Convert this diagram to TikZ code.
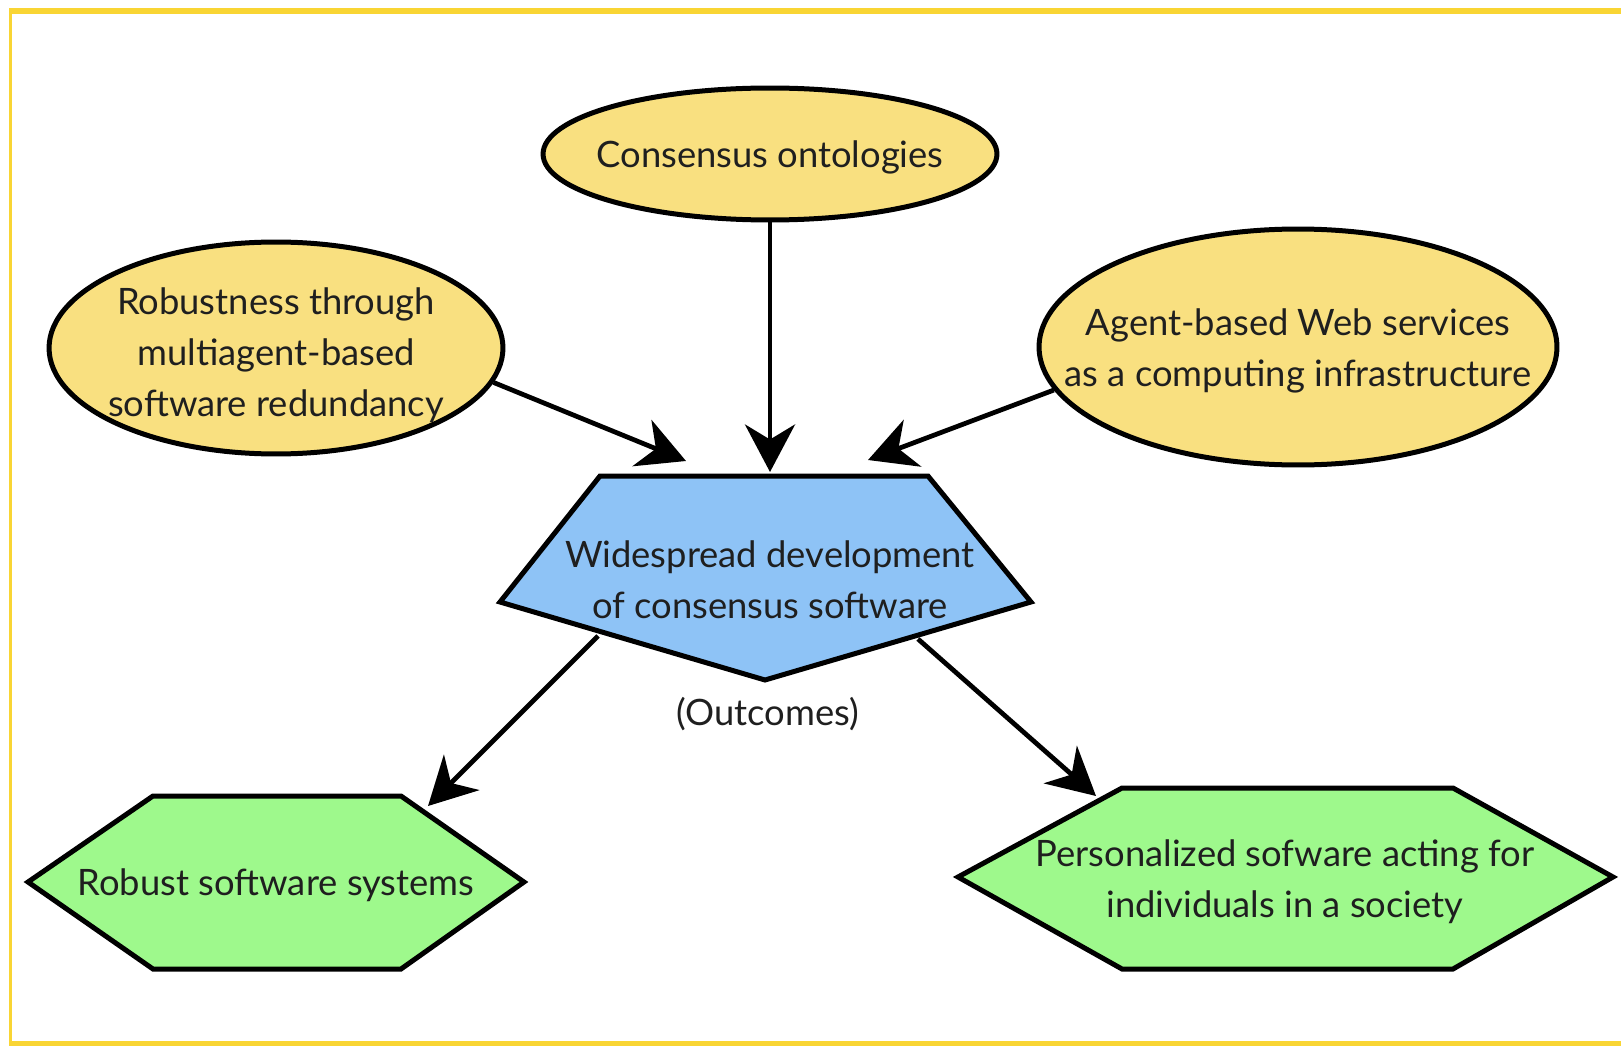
\documentclass[tikz,border=0pt]{standalone}
\usepackage{fontspec}
\setmainfont{Lato}
\usetikzlibrary{shapes.geometric,arrows.meta}
\definecolor{framegold}{RGB}{249,213,52}
\definecolor{causefill}{RGB}{249,224,128}
\definecolor{hubfill}{RGB}{142,195,246}
\definecolor{outfill}{RGB}{158,249,140}
\begin{document}
\begin{tikzpicture}[x=0.02cm,y=-0.02cm,
  lbl/.style={font=\fontsize{20.7}{29}\selectfont, align=center, text=black!88},
  cause/.style={ellipse, draw, line width=0.1cm, fill=causefill, inner sep=0pt},
  shapeline/.style={draw, line width=0.1cm, line join=miter},
  link/.style={line width=0.095cm, -{Stealth[length=0.95cm,width=1cm,inset=0.3cm]}}
]
\useasboundingbox (0,0) rectangle (1621,1047);

% gold frame: heavy top and bottom rules, thin left rule
\fill[framegold] (9,8) rectangle (1621,14);
\fill[framegold] (9,1041) rectangle (1621,1046);
\fill[framegold] (9,8) rectangle (12,1046);

% enabling technologies
\node[cause, minimum width=9.08cm, minimum height=2.64cm] (tell) at (770,154) {};
\node[lbl] (tellt) at (770,157) {Consensus ontologies};
\node[cause, minimum width=9.08cm, minimum height=4.24cm] (lell) at (276,348) {};
\node[lbl] (lellt) at (276,355) {Robustness through\\multiagent-based\\software redundancy};
\node[cause, minimum width=10.36cm, minimum height=4.72cm] (rell) at (1298,347) {};
\node[lbl] (rellt) at (1298,351) {Agent-based Web services\\as a computing infrastructure};

% central pentagon
\draw[shapeline, fill=hubfill] (600,476) -- (928,476) -- (1031,602) -- (765,680) -- (500,602) -- cycle;
\node[lbl] (hub) at (770,580) {Widespread development\\of consensus software};
\node[lbl] (outc) at (768,714) {(Outcomes)};

% outcome hexagons
\draw[shapeline, fill=outfill] (28,882) -- (153,796) -- (401,796) -- (524,882) -- (401,969) -- (153,969) -- cycle;
\node[lbl] (robust) at (276,885) {Robust software systems};
\draw[shapeline, fill=outfill] (958,877) -- (1122,788) -- (1453,788) -- (1613,877) -- (1453,969) -- (1122,969) -- cycle;
\node[lbl] (person) at (1285,882) {Personalized sofware acting for\\individuals in a society};

% arrow end points on the pentagon and hexagons
\coordinate (hubN) at (770,472);
\coordinate (hubNW) at (686,461);
\coordinate (hubNE) at (868,460);
\coordinate (hubSW) at (598,636);
\coordinate (hubSE) at (918,639);
\coordinate (robustNE) at (428,806);
\coordinate (personNW) at (1096,796);

% connectors
\draw[link] (tell.south) -- (hubN);
\draw[link] (lell.-9) -- (hubNW);
\draw[link] (rell.190) -- (hubNE);
\draw[link] (hubSW) -- (robustNE);
\draw[link] (hubSE) -- (personNW);
\end{tikzpicture}
\end{document}
